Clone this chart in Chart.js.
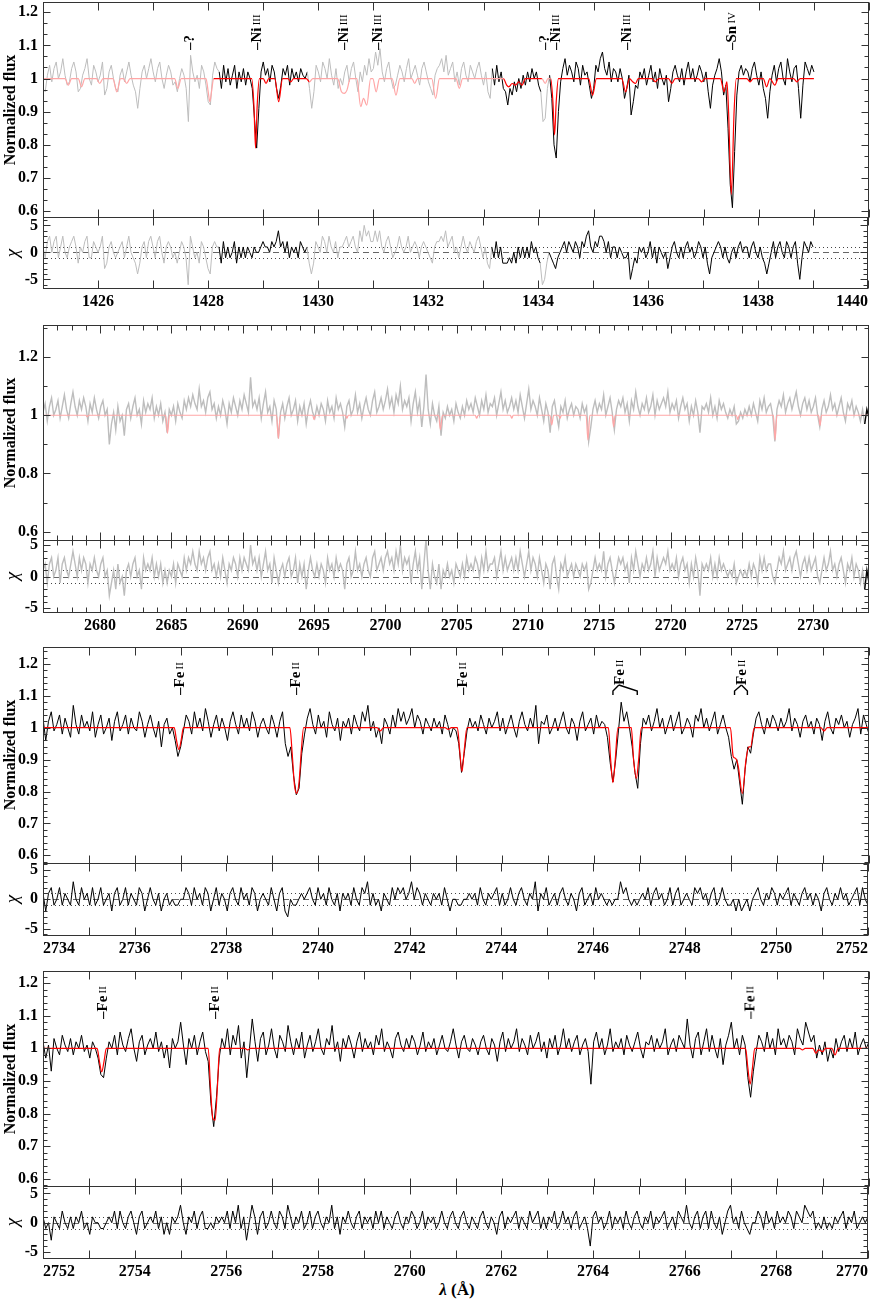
<!DOCTYPE html>
<html>
<head>
<meta charset="utf-8">
<script src="https://cdn.jsdelivr.net/npm/chart.js@4.4.1/dist/chart.umd.min.js"></script>
<style>
  body { margin: 0; background: #fff; }
  #fig { position: relative; width: 872px; height: 1299px; overflow: hidden; font-family: "Liberation Serif", "Times New Roman", serif; color: #000; }
  #fig canvas { position: absolute; left: 0; }
  .ytitle { position: absolute; font-weight: bold; font-size: 16px; white-space: nowrap; line-height: 1; transform: translate(-50%, -50%) rotate(-90deg); }
  .chi { position: absolute; font-style: italic; font-size: 19px; line-height: 1; transform: translate(-50%, -50%) rotate(-90deg); }
  .lineid { position: absolute; writing-mode: vertical-rl; white-space: nowrap; line-height: 1; font-weight: bold; font-size: 15px; transform: translate(-50%, -100%) rotate(180deg); }
  .lineid small { font-size: 11px; font-weight: normal; }
  #xtitle { position: absolute; left: 457px; top: 1290px; transform: translate(-50%, -50%); font-weight: bold; font-size: 17px; white-space: nowrap; }
</style>
</head>
<body>
<div id="fig">
  <div id="xtitle"><i>λ</i> (Å)</div>
</div>
<script>
// ---- panel 1: 1425-1440 Å (flux in % from continuum, chi in sigma) ----
const p1Start = 1425.0, p1Step = 0.04;
const p1Flux = [
  -3, -4, 1, 4, -1, 3, 5, 0, 2, 6,
  1, -2, -1, 3, 5, 2, -4, -3, 1, 3,
  6, 0, -2, 4, 2, -1, 1, 5, -5, -3,
  2, 4, 0, -3, -4, 1, 3, -1, 2, 5,
  1, -2, -4, -9, -3, 2, 4, 0, 3, 6,
  2, -1, 3, 5, 0, -3, 1, 4, 2, -2,
  -1, -4, 0, 3, 1, -3, -13, 7, 2, -1,
  1, -3, 4, 2, -2, -7, -8, 1, 5, 3,
  2, -3, 4, -1, 3, -2, 1, 4, -3, 2,
  -1, 3, -2, 2, 0, -3, -12, -21, -9, 2,
  5, 1, 3, -1, 4, 2, -3, -6, -2, 3,
  1, 4, -2, 3, 0, 2, -1, 3, 1, 0,
  2, -3, -9, -4, 4, 2, -1, 5, 3, 0,
  6, 1, -2, 3, -3, 0, -2, 2, 4, -1,
  3, 5, 0, -4, 2, -1, 4, 1, 6, 2,
  3, 8, 4, 9, 2, -1, 3, 5, 0, -3,
  -2, 1, 4, 2, -1, 3, 6, 0, 2, 4,
  1, -2, 3, 5, 2, -1, -3, -5, 1, 3,
  4, 6, 2, 7, 1, 3, 5, -1, 2, -2,
  3, 5, 1, -1, 4, 2, 0, 3, 5, 1,
  -2, 2, -4, -6, 3, -2, 4, -1, 2, -3,
  -4, -8, -3, -5, -1, -4, 0, -3, 1, -2,
  2, -1, 3, 0, 2, -2, -4, -13, -12, -3,
  1, -6, -20, -24, -10, -1, 3, 6, 1, 4,
  2, -1, 5, 3, -2, 4, 1, 2, -2, -6,
  -3, 4, 2, 6, 8, 3, 1, 5, -1, 3,
  2, -1, 3, 0, -6, -3, 1, -11, -7, -2,
  -3, 2, 0, 3, -2, 1, 4, -1, 2, -3,
  3, 0, -2, 1, -7, -3, 2, 4, 1, -1,
  3, -2, 2, 5, 0, 3, -1, 1, 4, 2,
  -1, 2, -4, -9, -2, 1, 3, 6, 2, -5,
  -2, -15, -32, -39, -22, -5, 2, 4, 1, 3,
  2, -1, 3, 5, 1, -2, 2, -3, -6, -12,
  -4, 1, 4, -1, 3, 5, 0, -2, 6, 2,
  -1, 3, 4, -3, -12, -2, 5, 3, 1, 4,
  2
];
const p1Chi = [
  1, -1, 2, 3, 0, 2, 3, -1, 1, 3,
  0, -1, 1, 2, 3, 1, -2, 1, 0, 2,
  3, -1, -1, 2, 1, 0, 1, 3, -3, -2,
  1, 2, 0, -1, 0, 1, 2, -1, 1, 3,
  0, -1, -2, -4, -2, 1, 2, -1, 2, 3,
  1, -1, 2, 3, 0, -2, 1, 2, 1, -1,
  0, -2, 0, 2, 1, -1, -6, 3, 1, -1,
  0, -2, 2, 1, -1, -3, -4, 1, 2, 1,
  1, -2, 2, -1, 1, -1, 0, 2, -2, 1,
  -1, 1, -1, 1, 0, -1, 1, 0, 0, 1,
  2, 1, 1, 0, 2, 1, 2, 4, 1, 2,
  0, 2, -1, 1, 0, 1, -1, 2, 1, 0,
  1, -2, -4, -2, 2, 1, 0, 3, 2, 0,
  3, 1, 0, 2, -1, 1, 1, 2, 3, 1,
  2, 3, 1, 0, 4, 2, 5, 3, 4, 2,
  2, 4, 2, 4, 1, 0, 2, 3, 1, -1,
  0, 1, 3, 1, 0, 1, 3, 0, 1, 2,
  1, -1, 1, 2, 1, 0, -1, -2, 1, 2,
  2, 3, 2, 4, 1, 2, 3, 0, 1, -1,
  1, 3, 1, 0, 2, 1, 0, 2, 3, 1,
  -1, 1, -2, -3, 1, -1, 2, -1, 1, -2,
  -2, -2, -1, -2, 0, -2, 1, -1, 1, -1,
  1, -1, 2, 0, 1, -1, -2, -6, -5, -2,
  0, -1, -2, -3, -1, 0, 1, 2, 0, 2,
  1, 0, 2, 1, -1, 2, 1, 3, 4, 1,
  0, 2, 1, 3, 3, 2, 0, 2, -1, 1,
  1, -1, 1, 0, -1, -1, 0, -5, -3, -1,
  -2, 1, 0, 1, -1, 0, 2, -1, 1, -2,
  1, 0, -1, 0, -3, -1, 1, 2, 0, -1,
  1, -1, 1, 2, 0, 1, -1, 0, 2, 1,
  -1, 1, -2, -4, -1, 0, 1, 2, 1, -1,
  1, -1, -2, 0, 1, -1, 1, 2, 0, 1,
  1, -1, 1, 2, 0, -1, 1, -1, -2, -4,
  -2, 0, 2, -1, 1, 2, 0, -1, 2, 1,
  -1, 1, 2, -2, -5, -1, 2, 1, 0, 2,
  1
];
const p1Model = [
  [1425.0, 1], [1425.40, 1], [1425.46, 0.98], [1425.52, 1], [1425.64, 1], [1425.70, 0.975], [1425.76, 1],
  [1425.97, 1], [1426.03, 0.985], [1426.09, 1], [1426.27, 1], [1426.34, 0.96], [1426.41, 1],
  [1426.46, 1], [1426.52, 0.985], [1426.58, 1], [1427.39, 1], [1427.45, 0.97], [1427.51, 1],
  [1427.96, 1], [1428.00, 0.96], [1428.03, 0.93], [1428.06, 0.96], [1428.10, 1],
  [1428.79, 1], [1428.83, 0.92], [1428.86, 0.79], [1428.89, 0.92], [1428.93, 1],
  [1429.00, 1], [1429.05, 0.985], [1429.10, 1], [1429.21, 1], [1429.28, 0.93], [1429.35, 1],
  [1429.45, 1], [1429.50, 0.99], [1429.55, 1], [1429.78, 1], [1429.84, 0.99], [1429.90, 1],
  [1430.35, 1], [1430.42, 0.96], [1430.47, 0.955], [1430.52, 0.965], [1430.58, 1],
  [1430.70, 1], [1430.77, 0.915], [1430.82, 0.94], [1430.88, 0.92], [1430.95, 1],
  [1430.99, 1], [1431.05, 0.96], [1431.11, 1], [1431.34, 1], [1431.41, 0.95], [1431.48, 1],
  [1431.70, 1], [1431.75, 0.985], [1431.80, 1], [1432.06, 1], [1432.13, 0.94], [1432.20, 1],
  [1432.50, 1], [1432.56, 0.97], [1432.62, 1],
  [1433.36, 1], [1433.42, 0.98], [1433.46, 0.975], [1433.52, 0.985], [1433.58, 0.98], [1433.64, 0.99], [1433.70, 0.98], [1433.76, 1],
  [1434.06, 1], [1434.12, 0.985], [1434.17, 1],
  [1434.22, 1], [1434.26, 0.93], [1434.29, 0.83], [1434.32, 0.93], [1434.36, 1],
  [1434.91, 1], [1434.98, 0.95], [1435.05, 1],
  [1435.51, 1], [1435.58, 0.96], [1435.65, 1], [1435.71, 0.99], [1435.76, 0.985], [1435.81, 1],
  [1436.06, 1], [1436.12, 0.99], [1436.18, 1], [1436.36, 1], [1436.42, 0.985], [1436.48, 1],
  [1436.90, 1], [1436.96, 0.99], [1437.02, 1],
  [1437.30, 1], [1437.37, 0.96], [1437.42, 0.99], [1437.45, 0.9], [1437.50, 0.65], [1437.55, 0.9], [1437.59, 1],
  [1437.78, 1], [1437.84, 0.99], [1437.90, 1],
  [1438.08, 1], [1438.14, 0.975], [1438.20, 1], [1438.29, 0.98], [1438.35, 1],
  [1438.63, 1], [1438.69, 0.99], [1438.75, 1], [1439.0, 1]
];
const p1Fit = [[1428.2, 1429.81], [1433.14, 1434.04], [1434.22, 1439.1]];
const p1Ids = [[1427.65, '?', ''], [1428.87, 'Ni', 'III'], [1430.44, 'Ni', 'III'], [1431.06, 'Ni', 'III'],
  [1434.10, '?', ''], [1434.30, 'Ni', 'III'], [1435.59, 'Ni', 'III'], [1437.50, 'Sn', 'IV']];
const p1XLabels = [1426, 1428, 1430, 1432, 1434, 1436, 1438, 1440];
const p1YLabels = [0.6, 0.7, 0.8, 0.9, 1, 1.1, 1.2];

// ---- panel 2: 2676-2734 Å ----
const p2Start = 2676.0, p2Step = 0.15;
const p2Flux = [
  1, 4, -2, 3, 6, 0, 2, 5, -1, 3,
  7, 2, -1, 4, 8, 3, 0, 5, 2, 6,
  3, -2, 4, 1, 6, 2, -1, 3, 5, 0,
  2, -10, -3, 1, -5, 3, -2, 0, -7, 2,
  4, -1, 3, 6, 0, 2, -3, 5, 1, 4,
  2, 6, -1, 3, 0, 4, -2, 1, -6, 2,
  0, 3, -2, 4, 1, -1, 5, 2, 6, 3,
  7, 4, 2, 9, 3, 5, 1, 6, 8, 2,
  4, -1, 3, 0, 5, 2, -3, 4, 1, 6,
  3, 0, 5, 2, 7, 4, 1, 13, 3, 5,
  2, 6, -1, 4, 8, 1, 3, -2, 5, 2,
  -8, 1, 4, -1, 3, 6, 0, 2, 5, -2,
  3, 0, 4, -3, 2, 5, 1, -1, 3, 0,
  4, 2, -2, 5, 1, 3, -1, 6, 2, 4,
  1, -4, 3, 5, 0, 2, 7, 1, 4, -1,
  3, 6, 2, 0, 5, 8, 1, 3, 6, 2,
  5, 9, 3, 6, 1, 7, 4, 10, 2, 5,
  3, 6, -2, 4, 8, 1, 5, -4, 3, 14,
  2, -3, 4, 0, -2, 3, -7, 1, -1, 3,
  0, 2, -2, 4, 1, -1, 3, 0, 5, 2,
  4, 1, 6, 3, 0, 5, 2, 7, 1, 4,
  3, 6, 0, 4, 8, 2, 5, 1, 3, 6,
  2, 5, 1, 7, 3, -1, 4, 9, 2, 5,
  3, 0, 6, 2, -2, 4, 1, -6, 3, 5,
  0, -4, 3, 1, 5, -1, 2, 4, 0, 3,
  2, -1, 4, 1, 3, -9, -4, 2, 5, 1,
  4, 2, 7, 0, 3, 6, 1, -5, 2, 5,
  3, 6, 1, 4, -2, 5, 2, 8, 3, 0,
  4, 2, 6, 1, 3, 7, 0, 5, 2, 4,
  6, 3, 8, 1, 4, 2, 5, -1, 3, 6,
  2, 4, -2, 3, 0, 5, 1, -6, 3, 2,
  4, 1, 6, 0, 3, -1, 5, 2, 4, 1,
  -1, 2, 0, 3, -3, -2, 1, -1, 2, 0,
  3, 0, 4, 1, -2, 5, 2, 6, 1, 3,
  4, 0, -9, 2, 5, 3, 7, 1, 4, 6,
  2, 5, 8, 3, 0, 4, 6, 2, 5, 1,
  3, 6, 0, -4, 2, 5, 1, 3, 7, 2,
  4, 0, 3, 6, 1, -2, 4, 2, 5, 0,
  3, 1, -2, 2, -3, 2, -1
];
const p2Chi = [
  1, 2, -1, 2, 3, 0, 1, 3, -1, 2,
  3, 1, 0, 2, 4, 2, 0, 3, 1, 3,
  2, -1, 2, 1, 3, 1, 0, 2, 3, 0,
  1, -3, -1, 1, -2, 2, -1, 0, -3, 1,
  2, 0, 2, 3, 0, 1, -2, 3, 1, 2,
  1, 3, 0, 2, 0, 2, -1, 1, -1, 1,
  0, 2, -1, 2, 1, 0, 3, 1, 3, 2,
  4, 2, 1, 4, 2, 3, 1, 3, 4, 1,
  2, 0, 2, 0, 3, 1, -1, 2, 1, 3,
  2, 0, 3, 1, 3, 2, 1, 5, 2, 3,
  1, 3, 0, 2, 4, 1, 2, -1, 3, 1,
  -1, 1, 2, 0, 2, 3, 0, 1, 3, -1,
  2, 0, 2, -2, 1, 3, 1, 0, 2, 0,
  2, 1, -1, 3, 1, 2, 0, 3, 1, 2,
  1, -2, 2, 3, 0, 1, 4, 1, 2, 0,
  2, 3, 1, 0, 3, 4, 1, 2, 3, 1,
  3, 4, 2, 3, 1, 4, 2, 5, 1, 3,
  2, 3, -1, 2, 4, 1, 3, -2, 2, 6,
  1, -2, 2, 0, -1, 2, -2, 1, 0, 2,
  0, 1, -1, 2, 1, 0, 2, 0, 3, 1,
  2, 1, 3, 2, 0, 3, 1, 4, 1, 2,
  2, 3, 0, 2, 4, 1, 3, 1, 2, 3,
  1, 3, 1, 4, 2, 0, 2, 4, 1, 3,
  2, 0, 3, 1, -1, 2, 1, -2, 2, 3,
  0, -2, 2, 1, 3, 0, 1, 2, 0, 2,
  1, 0, 2, 1, 2, -2, -1, 1, 3, 1,
  2, 1, 4, 0, 2, 3, 1, -1, 1, 3,
  2, 3, 1, 2, -1, 3, 1, 4, 2, 0,
  2, 1, 3, 1, 2, 4, 0, 3, 1, 2,
  3, 2, 4, 1, 2, 1, 3, 0, 2, 3,
  1, 2, -1, 2, 0, 3, 1, -3, 2, 1,
  2, 1, 3, 0, 2, 0, 3, 1, 2, 1,
  0, 1, 0, 2, -1, 0, 1, 0, 1, 0,
  2, 0, 2, 1, -1, 3, 1, 3, 1, 2,
  2, 0, -1, 1, 3, 2, 4, 1, 2, 3,
  1, 3, 4, 2, 0, 2, 3, 1, 3, 1,
  2, 3, 0, -1, 1, 3, 1, 2, 4, 1,
  2, 0, 2, 3, 1, -1, 2, 1, 3, 0,
  2, 1, -1, 1, -2, 1, -1
];
const p2Model = [
  [2676.0, 1], [2679.0, 1], [2679.1, 0.995], [2679.2, 1], [2684.6, 1], [2684.73, 0.938], [2684.86, 1],
  [2692.37, 1], [2692.5, 0.92], [2692.63, 1], [2694.9, 1], [2695.0, 0.985], [2695.1, 1],
  [2697.2, 1], [2697.3, 0.99], [2697.4, 1], [2703.73, 1], [2703.86, 0.95], [2703.99, 1],
  [2706.3, 1], [2706.4, 0.99], [2706.5, 1], [2708.76, 1], [2708.86, 0.99], [2708.96, 1],
  [2711.53, 1], [2711.66, 0.967], [2711.79, 1], [2712.14, 1], [2712.24, 0.99], [2712.34, 1],
  [2714.07, 1], [2714.2, 0.915], [2714.33, 1], [2715.9, 1], [2716.0, 0.96], [2716.1, 1],
  [2724.6, 1], [2724.7, 0.985], [2724.8, 1], [2727.2, 1], [2727.32, 0.915], [2727.44, 1],
  [2730.37, 1], [2730.47, 0.965], [2730.57, 1], [2733.9, 1]
];
const p2Fit = [[2733.55, 2734.0]];
const p2XLabels = [2680, 2685, 2690, 2695, 2700, 2705, 2710, 2715, 2720, 2725, 2730];
const p2YLabels = [0.6, 0.8, 1, 1.2];

// ---- panel 3: 2734-2752 Å ----
const p3Start = 2734.0, p3Step = 0.06;
const p3Flux = [
  3, -4, 2, 5, -1, 1, 4, -2, 3, 0,
  -3, 7, 1, -2, 4, 0, 2, -1, 5, -3,
  1, 4, -2, 0, 3, -4, 2, 5, -1, 1,
  4, -2, 3, 0, -1, 5, 2, -3, 1, 4,
  0, -3, 2, -6, 1, 3, -2, 0, -4, -9,
  -6, -1, 4, 2, -2, 5, 0, 3, -1, 6,
  2, -3, 1, 4, -1, 3, 0, -4, 2, 5,
  1, -2, 4, 0, 3, -1, 5, 2, -3, 1,
  3, 0, -2, 4, 1, -3, 2, 5, -5, -9,
  -6, -15, -21, -19, -8, -2, 3, 6, 1, -2,
  4, 0, 2, -3, 5, 1, -1, 3, -4, 2,
  0, 3, -2, 4, 1, -1, 5, 2, 7, -1,
  2, -3, 0, -5, 3, 1, -2, 4, 0, 6,
  2, 5, 1, 3, 6, 0, 4, 2, -2, 3,
  1, -1, 3, 0, 2, -2, 4, 1, -3, 0,
  -1, -5, -14, -8, -1, 3, 0, 2, -1, 4,
  1, -2, 3, 0, 2, 5, -1, 3, -2, 1,
  4, 0, -3, 2, 5, 1, -1, 3, 0, 7,
  -5, 2, 1, 4, -2, 0, 3, -1, 2, 5,
  0, -2, 3, 1, -4, 2, 5, -1, 1, 3,
  -2, 4, 0, 2, 1, -3, -11, -17, -10, -1,
  8, 2, 5, 0, -6, -14, -19, -5, 3, 1,
  4, -1, 2, 6, 0, 3, -2, 1, 4, -1,
  2, 5, -2, 0, 3, 1, -3, 4, 2, 6,
  0, 3, -1, 2, 5, -2, 1, 4, 0, -3,
  -9, -13, -10, -17, -24, -13, -6, -8, -2, 3,
  5, 1, -2, 3, 0, 4, 2, -1, 3, 0,
  2, 6, -1, 3, 1, -3, 2, 4, 0, 2,
  -2, 3, 1, -4, 2, 5, 0, -2, 3, 1,
  4, 0, 2, -3, 1, 3, 6, -2, 4, 1,
  -2
];
const p3Chi = [
  1, -2, 1, 2, -1, 0, 2, -1, 1, 0,
  -1, 3, 0, -1, 2, 0, 1, -1, 2, -1,
  0, 2, -1, 0, 1, -2, 1, 2, -1, 0,
  2, -1, 1, 0, -1, 2, 1, -2, 0, 2,
  0, -1, 1, -2, 0, 1, -1, 0, -1, -1,
  0, 0, 2, 1, -1, 2, 0, 1, -1, 2,
  1, -2, 0, 2, -1, 1, 0, -2, 1, 2,
  0, -1, 2, 0, 1, -1, 2, 1, -2, 0,
  1, 0, -1, 2, 0, -2, 1, 2, -2, -3,
  0, -1, -1, 0, 1, 0, 1, 2, 0, -1,
  2, 0, 1, -1, 2, 0, -1, 1, -2, 1,
  0, 1, -1, 2, 0, -1, 2, 1, 3, -1,
  1, -1, 0, -2, 1, 0, -1, 2, 0, 2,
  1, 2, 0, 1, 3, 0, 2, 1, -1, 1,
  0, -1, 1, 0, 1, -1, 2, 0, -2, 0,
  0, -1, -1, 0, 0, 1, 0, 1, -1, 2,
  0, -1, 1, 0, 1, 2, -1, 1, -1, 0,
  2, 0, -1, 1, 2, 0, -1, 1, 0, 3,
  -2, 1, 0, 2, -1, 0, 1, -1, 1, 2,
  0, -1, 1, 0, -2, 1, 2, -1, 0, 1,
  -1, 2, 0, 1, 0, -1, 0, -1, 0, 0,
  3, 1, 2, 0, -1, 0, -1, 0, 1, 0,
  2, -1, 1, 2, 0, 1, -1, 0, 2, -1,
  1, 2, -1, 0, 1, 0, -1, 2, 1, 2,
  0, 1, -1, 1, 2, -1, 0, 2, 0, -1,
  -1, 0, -2, 0, -2, -1, 0, -2, 0, 1,
  2, 0, -1, 1, 0, 2, 1, -1, 1, 0,
  1, 2, -1, 1, 0, -1, 1, 2, 0, 1,
  -1, 1, 0, -2, 1, 2, 0, -1, 1, 0,
  2, 0, 1, -1, 0, 1, 2, -1, 2, 0,
  -1
];
const p3Model = [
  [2734.0, 1], [2736.86, 1], [2736.91, 0.96], [2736.96, 0.932], [2737.01, 0.96], [2737.06, 1],
  [2739.38, 1], [2739.43, 0.92], [2739.48, 0.82], [2739.53, 0.794], [2739.58, 0.83], [2739.63, 0.93], [2739.68, 1],
  [2741.28, 1], [2741.35, 0.99], [2741.42, 1], [2742.76, 1], [2742.83, 0.995], [2742.90, 1],
  [2743.03, 1], [2743.08, 0.93], [2743.13, 0.862], [2743.18, 0.93], [2743.24, 1],
  [2746.32, 1], [2746.37, 0.9], [2746.42, 0.828], [2746.47, 0.9], [2746.53, 1],
  [2746.82, 1], [2746.87, 0.9], [2746.93, 0.841], [2746.98, 0.9], [2747.04, 1],
  [2748.98, 1], [2749.04, 0.91], [2749.09, 0.904], [2749.15, 0.88], [2749.24, 0.794], [2749.32, 0.9],
  [2749.38, 0.94], [2749.42, 0.94], [2749.50, 1],
  [2750.95, 1], [2751.02, 0.99], [2751.09, 1], [2752.0, 1]
];
const p3Ids = [[2736.96, 'Fe', 'II'], [2739.50, 'Fe', 'II'], [2743.13, 'Fe', 'II']];
const p3Groups = [[2746.55, 2746.42, 2746.95, 'Fe', 'II'], [2749.22, 2749.07, 2749.35, 'Fe', 'II']];
const p3XLabels = [2734, 2736, 2738, 2740, 2742, 2744, 2746, 2748, 2750, 2752];

// ---- panel 4: 2752-2770 Å ----
const p4Start = 2752.0, p4Step = 0.06;
const p4Flux = [
  2, -3, 1, -7, 3, 0, -2, 4, 1, -1,
  3, -2, 2, 0, 4, -1, 1, -3, 2, 0,
  -3, -8, -9, -3, 2, 0, 4, -2, 5, 1,
  -1, 3, 6, 0, -4, 2, 4, -2, 1, 3,
  0, 5, -1, 2, -3, 1, -6, 3, 0, 2,
  8, 1, -5, 3, 0, 4, -2, 2, 5, -1,
  -4, -17, -24, -15, -3, 3, 0, 6, -2, 4,
  1, 7, -3, 2, -9, 0, 9, 2, -4, 3,
  5, -2, 1, 6, 0, -3, 4, 2, -1, 7,
  2, -2, 3, 0, 5, -3, 1, 4, -1, 2,
  6, 0, -2, 3, 1, 7, -1, 2, -4, 3,
  0, 4, 1, -3, 2, 5, -1, 3, 0, 2,
  -2, 4, 1, 6, -1, 2, 0, -3, 3, 5,
  1, -1, 3, 0, 4, 2, -2, 1, 5, -1,
  2, 0, 3, -2, 1, 4, 0, -1, 2, 6,
  1, -3, 2, 4, 0, -1, 3, 1, -2, 2,
  4, 0, -2, 3, 1, -4, 2, 5, -1, 3,
  0, 2, 6, -1, 3, 1, -2, 4, 0, 2,
  5, -1, 2, -3, 3, 0, 4, -2, 1, 6,
  0, 3, -1, 2, 4, -2, 1, 3, -1, -11,
  2, 5, 0, 3, -2, 1, 6, -1, 2, 0,
  3, -2, 4, 1, -1, 2, 5, 0, -3, 2,
  1, 4, -1, 3, 0, 2, 6, -2, 1, 3,
  -1, 4, 2, 0, 9, 1, -3, 3, 5, -2,
  2, 6, -1, 4, 0, -3, 3, -5, 1, 4,
  8, 0, 3, -2, 4, 1, -9, -15, -7, -1,
  4, 2, -1, 5, 0, 3, -2, 6, 1, 3,
  0, 4, 2, -2, 6, 3, 1, 8, 5, 2,
  4, -3, 1, -2, 2, -4, 0, -3, 3, -1,
  2, 4, -1, 3, 0, 5, -2, 1, 3, 0,
  2
];
const p4Chi = [
  1, -1, 0, -3, 1, 0, -1, 2, 0, -1,
  1, -1, 1, 0, 2, -1, 0, -2, 1, 0,
  0, -1, -1, 0, 1, 0, 2, -1, 2, 0,
  -1, 1, 2, 0, -2, 1, 2, -1, 0, 1,
  0, 2, -1, 1, -2, 0, -2, 1, 0, 1,
  3, 0, -2, 1, 0, 2, -1, 1, 2, -1,
  -1, 0, -1, 1, 0, 1, 0, 2, -1, 2,
  0, 3, -1, 1, -3, 0, 3, 1, -2, 1,
  2, -1, 0, 2, 0, -1, 2, 1, -1, 3,
  1, -1, 1, 0, 2, -1, 0, 2, -1, 1,
  2, 0, -1, 1, 0, 3, -1, 1, -2, 1,
  0, 2, 0, -1, 1, 2, -1, 1, 0, 1,
  -1, 2, 0, 2, -1, 1, 0, -1, 1, 2,
  0, -1, 1, 0, 2, 1, -1, 0, 2, -1,
  1, 0, 1, -1, 0, 2, 0, -1, 1, 2,
  0, -1, 1, 2, 0, -1, 1, 0, -1, 1,
  2, 0, -1, 1, 0, -2, 1, 2, -1, 1,
  0, 1, 2, -1, 1, 0, -1, 2, 0, 1,
  2, -1, 1, -1, 1, 0, 2, -1, 0, 2,
  0, 1, -1, 1, 2, -1, 0, 1, -1, -4,
  1, 2, 0, 1, -1, 0, 2, -1, 1, 0,
  1, -1, 2, 0, -1, 1, 2, 0, -1, 1,
  0, 2, -1, 1, 0, 1, 2, -1, 0, 1,
  -1, 2, 1, 0, 3, 0, -1, 1, 2, -1,
  1, 2, -1, 2, 0, -1, 1, -2, 0, 2,
  3, 0, 1, -1, 2, 0, -1, -2, 0, 0,
  2, 1, -1, 2, 0, 1, -1, 2, 0, 1,
  0, 2, 1, -1, 2, 1, 0, 3, 2, 1,
  2, -1, 0, -1, 1, -1, 0, -1, 1, 0,
  1, 2, -1, 1, 0, 2, -1, 0, 1, 0,
  1
];
const p4Model = [
  [2752.0, 1], [2753.18, 1], [2753.23, 0.96], [2753.28, 0.928], [2753.33, 0.96], [2753.38, 1],
  [2755.60, 1], [2755.65, 0.88], [2755.70, 0.785], [2755.75, 0.78], [2755.80, 0.88], [2755.85, 1],
  [2756.40, 1], [2756.46, 0.995], [2756.52, 1],
  [2767.31, 1], [2767.36, 0.94], [2767.41, 0.89], [2767.46, 0.94], [2767.51, 1],
  [2768.49, 1], [2768.55, 0.995], [2768.61, 1],
  [2768.78, 1], [2768.84, 0.985], [2768.90, 0.995], [2768.99, 0.99], [2769.05, 1],
  [2769.19, 1], [2769.26, 0.98], [2769.33, 1], [2770.0, 1]
];
const p4Ids = [[2753.28, 'Fe', 'II'], [2755.72, 'Fe', 'II'], [2767.41, 'Fe', 'II']];
const p4XLabels = [2752, 2754, 2756, 2758, 2760, 2762, 2764, 2766, 2768, 2770];

const fineYLabels = [0.6, 0.7, 0.8, 0.9, 1, 1.1, 1.2];
const chiLabels = [-5, 0, 5];

// ---- drawing ----
const FONT = '"Liberation Serif", "Times New Roman", serif';
const BLACK = '#000000', GREY = '#bdbdbd', RED = '#ff0000', PINK = '#ffa6a6';
const fig = document.getElementById('fig');
const PAD = 20;

const near = (v, step) => Math.abs(v / step - Math.round(v / step)) < 1e-6;

const framePlugin = {
  id: 'frame',
  beforeDatasetsDraw(chart, args, o) {
    if (!o.refLines) return;
    const { ctx, chartArea: a, scales: { y } } = chart;
    ctx.save();
    ctx.lineWidth = 1;
    ctx.strokeStyle = '#444';
    ctx.setLineDash([1, 3]);
    [-1, 1].forEach((v) => {
      const py = Math.round(y.getPixelForValue(v)) + 0.5;
      ctx.beginPath(); ctx.moveTo(a.left, py); ctx.lineTo(a.right, py); ctx.stroke();
    });
    ctx.strokeStyle = '#666';
    ctx.setLineDash([6, 4]);
    const p0 = Math.round(y.getPixelForValue(0)) + 0.5;
    ctx.beginPath(); ctx.moveTo(a.left, p0); ctx.lineTo(a.right, p0); ctx.stroke();
    ctx.restore();
  },
  afterDraw(chart, args, o) {
    const { ctx, chartArea: a, scales: { x, y } } = chart;
    const seg = (x0, y0, x1, y1) => { ctx.beginPath(); ctx.moveTo(x0, y0); ctx.lineTo(x1, y1); ctx.stroke(); };
    ctx.save();
    ctx.strokeStyle = '#333';
    ctx.lineWidth = 1;
    const L = Math.round(a.left) + 0.5, R = Math.round(a.right) - 0.5;
    const T = Math.round(a.top) + 0.5, B = Math.round(a.bottom) + 0.5;
    ctx.strokeRect(L, T, R - L, B - T);
    // x ticks, inward on top and bottom
    for (let k = Math.ceil(x.min - 1e-6); k <= x.max + 1e-6; k++) {
      const len = near(k, o.xMajor) ? 8 : o.xMinorLen;
      const px = Math.round(x.getPixelForValue(k)) + 0.5;
      seg(px, T, px, T + len);
      seg(px, B, px, B - len);
    }
    // y ticks, inward on left and right
    const minor = o.yMajor / o.ySub;
    for (let k = Math.ceil(y.min / minor - 1e-6); k * minor <= y.max + 1e-6; k++) {
      const v = k * minor;
      const len = near(v, o.yMajor) ? 7 : 4;
      const py = Math.round(y.getPixelForValue(v)) + 0.5;
      seg(L, py, L + len, py);
      seg(R, py, R - len, py);
    }
    // brackets joining blended lines
    (o.groups || []).forEach((g) => {
      const yb = a.top + 48;
      const xl = x.getPixelForValue(g[0]);
      ctx.strokeStyle = '#000';
      ctx.lineWidth = 1.4;
      [g[1], g[2]].forEach((lam) => {
        const xp = x.getPixelForValue(lam);
        ctx.beginPath();
        ctx.moveTo(xp, yb);
        ctx.lineTo(xp, yb - 4);
        ctx.lineTo(xl, yb - 10);
        ctx.stroke();
      });
    });
    ctx.restore();
  }
};

function addCanvas(top, height) {
  const c = document.createElement('canvas');
  c.width = 872;
  c.height = height;
  c.style.top = top + 'px';
  fig.appendChild(c);
  return c;
}

function colorBy(ranges, dark, light) {
  return (ctx) => {
    const m = (ctx.p0.parsed.x + ctx.p1.parsed.x) / 2;
    return ranges.some((r) => m >= r[0] && m <= r[1]) ? dark : light;
  };
}

function scaleX(p, show) {
  return {
    type: 'linear', min: p.xMin, max: p.xMax, display: show, position: 'bottom',
    grid: { display: false, drawTicks: false }, border: { display: false },
    afterBuildTicks: (s) => {
      const t = [];
      for (let k = Math.ceil(p.xMin - 1e-6); k <= p.xMax + 1e-6; k++) t.push({ value: k });
      s.ticks = t;
    },
    afterFit: (s) => { if (show) s.height = 30; },
    ticks: {
      autoSkip: false, maxRotation: 0, minRotation: 0, align: 'inner', padding: 4, color: '#000',
      font: { family: FONT, size: 16, weight: 'bold' },
      callback: (v) => (p.xLabels.includes(v) ? String(v) : '')
    }
  };
}

function scaleY(min, max, labels) {
  return {
    min, max,
    grid: { display: false, drawTicks: false }, border: { display: false },
    afterBuildTicks: (s) => { s.ticks = labels.map((v) => ({ value: v })); },
    afterFit: (s) => { s.width = 43; },
    ticks: { padding: 5, color: '#000', font: { family: FONT, size: 16, weight: 'bold' }, callback: (v) => String(v) }
  };
}

function baseOptions(padBottom) {
  return {
    responsive: false, animation: false, events: [],
    layout: { padding: { top: PAD, right: 3, bottom: padBottom, left: 0 } },
    plugins: { legend: { display: false }, tooltip: { enabled: false } }
  };
}

function addText(cls, html, x, y) {
  const d = document.createElement('div');
  d.className = cls;
  d.innerHTML = html;
  d.style.left = x + 'px';
  d.style.top = y + 'px';
  fig.appendChild(d);
}

function ionLabel(el, ion) {
  return el + (ion ? '<small>\u2009' + ion + '</small>' : '');
}

function buildPanel(p) {
  const obs = p.flux.map((v, i) => ({ x: p.start + i * p.step, y: 1 + v / 100 }));
  const chi = p.chi.map((v, i) => ({ x: p.start + i * p.step, y: v }));
  const model = p.model.map(([x, y]) => ({ x, y }));
  const [ft, fb] = p.fluxBox;
  const [ct, cb] = p.chiBox;
  const lw = p.lineWidth || 1;

  const fluxOpts = baseOptions(PAD);
  fluxOpts.scales = { x: scaleX(p, false), y: scaleY(p.fluxMin, p.fluxMax, p.yLabels) };
  fluxOpts.plugins.frame = { xMajor: p.xMajor, xMinorLen: p.xMinorLen, yMajor: p.yMajor, ySub: p.ySub, groups: p.groups };
  const fluxChart = new Chart(addCanvas(ft - PAD, fb - ft + 2 * PAD), {
    type: 'line',
    data: {
      datasets: [
        { data: model, borderColor: RED, borderWidth: 1.2, pointRadius: 0, cubicInterpolationMode: 'monotone',
          segment: { borderColor: colorBy(p.fit, RED, PINK) } },
        { data: obs, borderColor: BLACK, borderWidth: lw, pointRadius: 0, tension: 0,
          segment: { borderColor: colorBy(p.fit, BLACK, GREY) } }
      ]
    },
    options: fluxOpts,
    plugins: [framePlugin]
  });

  const chiOpts = baseOptions(0);
  chiOpts.scales = { x: scaleX(p, true), y: scaleY(p.chiMin, p.chiMax, chiLabels) };
  chiOpts.plugins.frame = { xMajor: p.xMajor, xMinorLen: p.xMinorLen, yMajor: 5, ySub: 5, refLines: true };
  new Chart(addCanvas(ct - PAD, cb - ct + PAD + 30), {
    type: 'line',
    data: {
      datasets: [
        { data: chi, borderColor: BLACK, borderWidth: lw, pointRadius: 0, tension: 0,
          segment: { borderColor: colorBy(p.fit, BLACK, GREY) } }
      ]
    },
    options: chiOpts,
    plugins: [framePlugin]
  });

  addText('ytitle', 'Normalized flux', 10, (ft + fb) / 2);
  addText('chi', 'χ', 11, (ct + cb) / 2);

  const xs = fluxChart.scales.x;
  const yb = ft + 48;
  (p.ids || []).forEach(([lam, el, ion]) => {
    addText('lineid', '–' + ionLabel(el, ion), xs.getPixelForValue(lam), yb);
  });
  (p.groups || []).forEach(([lam, , , el, ion]) => {
    addText('lineid', ionLabel(el, ion), xs.getPixelForValue(lam), yb - 10);
  });
}

buildPanel({
  start: p1Start, step: p1Step, flux: p1Flux, chi: p1Chi, model: p1Model, fit: p1Fit, ids: p1Ids,
  xMin: 1425, xMax: 1440, xLabels: p1XLabels, xMajor: 1, xMinorLen: 8,
  fluxBox: [2, 217], chiBox: [217, 288], fluxMin: 0.582, fluxMax: 1.231, yLabels: p1YLabels, yMajor: 0.1, ySub: 3,
  chiMin: -6.6, chiMax: 6.55
});
buildPanel({
  start: p2Start, step: p2Step, flux: p2Flux, chi: p2Chi, model: p2Model, fit: p2Fit, lineWidth: 1.4,
  xMin: 2676, xMax: 2733.9, xLabels: p2XLabels, xMajor: 5, xMinorLen: 5,
  fluxBox: [325, 540], chiBox: [540, 612], fluxMin: 0.5715, fluxMax: 1.31, yLabels: p2YLabels, yMajor: 0.2, ySub: 2,
  chiMin: -5.6, chiMax: 5.8
});
buildPanel({
  start: p3Start, step: p3Step, flux: p3Flux, chi: p3Chi, model: p3Model, fit: [[2733, 2753]], ids: p3Ids, groups: p3Groups,
  xMin: 2734, xMax: 2752, xLabels: p3XLabels, xMajor: 1, xMinorLen: 8,
  fluxBox: [647, 863], chiBox: [863, 935], fluxMin: 0.576, fluxMax: 1.253, yLabels: fineYLabels, yMajor: 0.1, ySub: 5,
  chiMin: -6.1, chiMax: 6.2
});
buildPanel({
  start: p4Start, step: p4Step, flux: p4Flux, chi: p4Chi, model: p4Model, fit: [[2751, 2771]], ids: p4Ids,
  xMin: 2752, xMax: 2770, xLabels: p4XLabels, xMajor: 1, xMinorLen: 8,
  fluxBox: [971, 1186], chiBox: [1186, 1258], fluxMin: 0.578, fluxMax: 1.237, yLabels: fineYLabels, yMajor: 0.1, ySub: 5,
  chiMin: -6.04, chiMax: 6.28
});
</script>
</body>
</html>
